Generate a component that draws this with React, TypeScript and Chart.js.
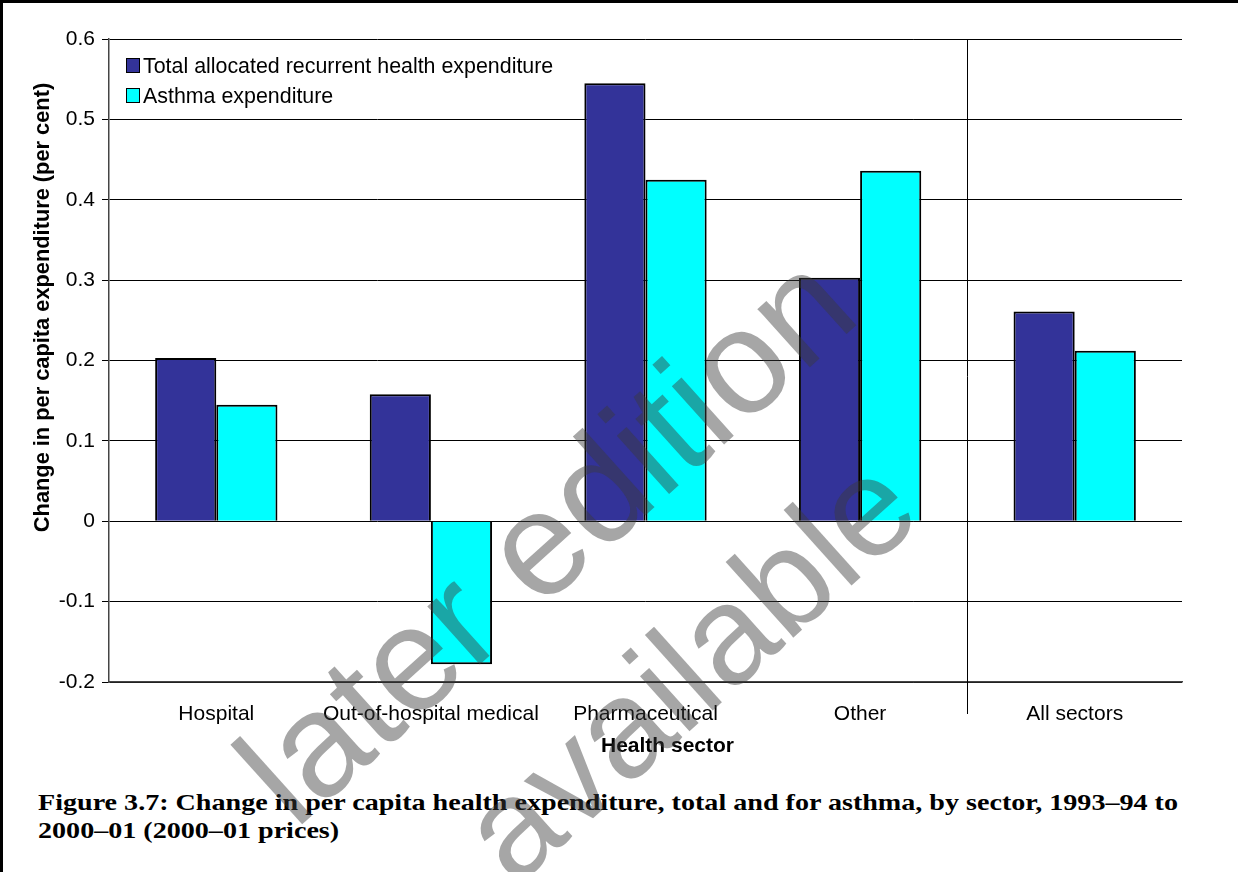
import React, { useEffect, useLayoutEffect, useRef } from "react";
import { Chart, registerables } from "chart.js";

Chart.register(...registerables);

const categories = ["Hospital", "Out-of-hospital medical", "Pharmaceutical", "Other", "All sectors"];
const totalExpenditure = [0.203, 0.158, 0.545, 0.303, 0.261];
const asthmaExpenditure = [0.145, -0.178, 0.425, 0.436, 0.212];
const seriesLabels = ["Total allocated recurrent health expenditure", "Asthma expenditure"];
const seriesColors = ["#333399", "#00FFFF"];
const yTickValues = [-0.2, -0.1, 0, 0.1, 0.2, 0.3, 0.4, 0.5, 0.6];
const yTickLabels = ["-0.2", "-0.1", "0", "0.1", "0.2", "0.3", "0.4", "0.5", "0.6"];
const xAxisTitle = "Health sector";
const yAxisTitle = "Change in per capita expenditure (per cent)";
const captionLines = [
  "Figure 3.7: Change in per capita health expenditure, total and for asthma, by sector, 1993\u201394 to",
  "2000\u201301 (2000\u201301 prices)",
];
const watermarkLines = ["later edition", "available"];

const SANS = '"Liberation Sans", Arial, sans-serif';

const overlayPlugin = {
  id: "overlayPlugin",
  afterDatasetsDraw(chart: any) {
    const { ctx, chartArea, scales } = chart;
    const x = scales.x;
    ctx.save();
    // separator before the last category
    const sx = Math.round((x.getPixelForValue(3) + x.getPixelForValue(4)) / 2) + 0.5;
    ctx.strokeStyle = "#000";
    ctx.lineWidth = 1;
    ctx.beginPath();
    ctx.moveTo(sx, chartArea.top);
    ctx.lineTo(sx, chartArea.bottom + 32);
    ctx.stroke();

    // legend inside plot
    chart.data.datasets.forEach((ds: any, i: number) => {
      const lx = chartArea.left + 17;
      const ly = chartArea.top + 19 + i * 30;
      ctx.fillStyle = ds.backgroundColor;
      ctx.fillRect(lx, ly, 14, 15);
      ctx.strokeStyle = "#000";
      ctx.lineWidth = 1;
      ctx.strokeRect(lx + 0.5, ly + 0.5, 13, 14);
      ctx.fillStyle = "#000";
      ctx.font = `21.4px ${SANS}`;
      ctx.textAlign = "left";
      ctx.textBaseline = "middle";
      ctx.fillText(ds.label, lx + 17, ly + 9);
    });

    // axis titles
    ctx.fillStyle = "#000";
    ctx.font = `bold 21px ${SANS}`;
    ctx.textAlign = "center";
    ctx.textBaseline = "middle";
    ctx.fillText(xAxisTitle, (chartArea.left + chartArea.right) / 2 + 22, chartArea.bottom + 64);
    ctx.font = `bold 21.8px ${SANS}`;
    ctx.translate(chartArea.left - 66, (chartArea.top + chartArea.bottom) / 2 - 53);
    ctx.rotate(-Math.PI / 2);
    ctx.fillText(yAxisTitle, 0, 0);
    ctx.restore();
  },
};

function ChartCanvas() {
  const ref = useRef<HTMLCanvasElement | null>(null);
  useEffect(() => {
    if (!ref.current) return;
    const chart = new Chart(ref.current, {
      type: "bar",
      data: {
        labels: categories,
        datasets: [
          {
            label: seriesLabels[0],
            data: totalExpenditure,
            backgroundColor: seriesColors[0],
            borderColor: "#000",
            borderWidth: 2,
          },
          {
            label: seriesLabels[1],
            data: asthmaExpenditure,
            backgroundColor: seriesColors[1],
            borderColor: "#000",
            borderWidth: 2,
          },
        ],
      },
      options: {
        responsive: false,
        animation: false,
        devicePixelRatio: 1,
        layout: { padding: { left: 0, right: 56, top: 39, bottom: 0 } },
        datasets: { bar: { categoryPercentage: 0.57, barPercentage: 1 } },
        plugins: {
          legend: { display: false },
          tooltip: { enabled: false },
          title: { display: false },
        },
        scales: {
          x: {
            grid: { display: false },
            border: { display: true, color: "#444", width: 1.5 },
            ticks: {
              color: "#000",
              font: { family: SANS, size: 21 },
              padding: 12,
              maxRotation: 0,
              autoSkip: false,
            },
            afterFit: (s: any) => {
              s.height = 88;
            },
          },
          y: {
            min: -0.2,
            max: 0.6,
            afterBuildTicks: (s: any) => {
              s.ticks = yTickValues.map((v) => ({ value: v }));
            },
            grid: { color: "#000", lineWidth: 1, tickLength: 7 },
            border: { display: true, color: "#444", width: 1.5 },
            ticks: {
              color: "#000",
              font: { family: SANS, size: 21 },
              padding: 7,
              callback: (v: any) => {
                const idx = yTickValues.findIndex((t) => Math.abs(t - Number(v)) < 1e-9);
                return idx >= 0 ? yTickLabels[idx] : "";
              },
            },
            afterFit: (s: any) => {
              s.width = 109;
            },
          },
        },
      },
      plugins: [overlayPlugin],
    } as any);
    return () => chart.destroy();
  }, []);
  return (
    <canvas
      ref={ref}
      width={1238}
      height={770}
      style={{ position: "absolute", left: 0, top: 0, width: 1238, height: 770 }}
    />
  );
}

function Caption() {
  const boxRef = useRef<HTMLDivElement | null>(null);
  const firstRef = useRef<HTMLSpanElement | null>(null);
  useLayoutEffect(() => {
    const box = boxRef.current;
    const first = firstRef.current;
    if (!box || !first) return;
    const w = first.getBoundingClientRect().width;
    if (w > 0) {
      box.style.transform = `scaleX(${1140 / w})`;
    }
  }, []);
  return (
    <div
      ref={boxRef}
      style={{
        position: "absolute",
        left: 38,
        top: 788,
        fontFamily: '"Liberation Serif", "Times New Roman", serif',
        fontWeight: "bold",
        fontSize: 24,
        lineHeight: "28px",
        color: "#000",
        whiteSpace: "nowrap",
        transformOrigin: "0 0",
      }}
    >
      <div>
        <span ref={firstRef}>{captionLines[0]}</span>
      </div>
      <div>{captionLines[1]}</div>
    </div>
  );
}

export default function App() {
  useEffect(() => {
    document.body.style.margin = "0";
  }, []);
  const wm = [
    { cx: 545, cy: 537, size: 148 },
    { cx: 688, cy: 668, size: 140 },
  ];
  return (
    <div
      style={{
        position: "relative",
        width: 1238,
        height: 872,
        overflow: "hidden",
        background: "#fff",
      }}
    >
      <ChartCanvas />
      <Caption />
      {watermarkLines.map((t, i) => (
        <div
          key={i}
          style={{
            position: "absolute",
            left: wm[i].cx,
            top: wm[i].cy,
            transform: "translate(-50%, -50%) rotate(-42deg)",
            fontFamily: SANS,
            fontSize: wm[i].size,
            lineHeight: 1,
            whiteSpace: "nowrap",
            color: "rgba(57,57,57,0.45)",
            pointerEvents: "none",
          }}
        >
          {t}
        </div>
      ))}
      <div style={{ position: "absolute", left: 0, top: 0, width: 1238, height: 3, background: "#000" }} />
      <div style={{ position: "absolute", left: 0, top: 0, width: 3, height: 872, background: "#000" }} />
    </div>
  );
}
